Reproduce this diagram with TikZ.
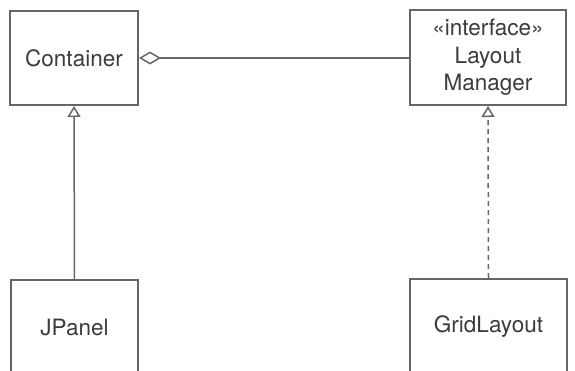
\documentclass[tikz,border=0pt]{standalone}
\usepackage{fontspec}
\setmainfont{TeX Gyre Heros}
\usetikzlibrary{arrows.meta}
\definecolor{linegray}{HTML}{666666}
\definecolor{textgray}{HTML}{3C3C3C}
\begin{document}
\begin{tikzpicture}[x=1pt,y=-1pt,
  cls/.style={draw=linegray,line width=2pt,fill=white,text=textgray,align=center,
    font=\fontsize{22.5}{27.5}\selectfont,inner sep=0pt},
  conn/.style={draw=linegray,line width=1.5pt},
  inh/.style={conn,-{Triangle[open,length=11pt,width=13pt,line width=1.5pt]}},
  agg/.style={conn,{Diamond[open,length=22pt,width=13pt,line width=1.5pt]}-}]
\useasboundingbox (0,0) rectangle (575,370);
\clip (0,0) rectangle (575,370);
\node[cls,minimum width=128pt,minimum height=94pt] (container) at (74,58) {Container};
\node[cls,minimum width=156pt,minimum height=95pt] (layout) at (488,57.5) {«interface»\\Layout\\Manager};
\node[cls,minimum width=127pt,minimum height=94pt] (jpanel) at (74.5,327) {JPanel};
\node[cls,minimum width=157pt,minimum height=96pt] (grid) at (488.5,327) {GridLayout};
\draw[agg] (container.east) -- (layout.west |- container.east);
\draw[inh] (jpanel.north) -- (container.south);
\draw[inh,dash pattern=on 5pt off 4pt] (grid.north) -- (layout.south);
\end{tikzpicture}
\end{document}
